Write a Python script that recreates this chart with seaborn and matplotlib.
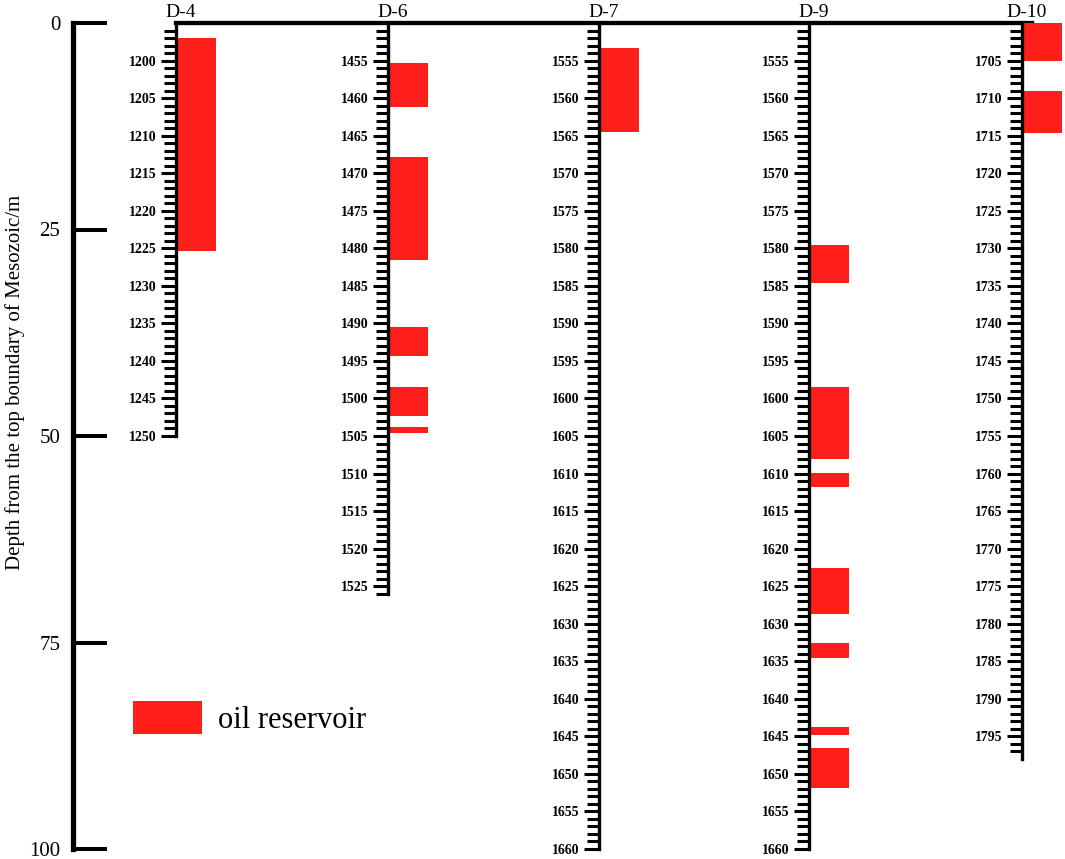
import numpy as np
import matplotlib.pyplot as plt
import seaborn as sns
from matplotlib.patches import Patch
from matplotlib.ticker import FixedLocator

# Well names and logged depth ranges (m)
wells = ["D-4", "D-6", "D-7", "D-9", "D-10"]
well_top = [1195, 1450, 1550, 1550, 1700]
well_bottom = [1250, 1526, 1660, 1660, 1798]
well_last_tick = [1250, 1526, 1660, 1660, 1797]

# Oil reservoir intervals (top, base) per well, m
d4_res = [(1197.0, 1225.4)]
d6_res = [(1455.3, 1461.2), (1467.8, 1481.6), (1490.5, 1494.4),
          (1498.5, 1502.3), (1503.8, 1504.6)]
d7_res = [(1553.3, 1564.5)]
d9_res = [(1579.5, 1584.6), (1598.5, 1608.1), (1609.9, 1611.8),
          (1622.6, 1628.7), (1632.5, 1634.5), (1643.7, 1644.8),
          (1646.6, 1651.9)]
d10_res = [(1700.0, 1705.1), (1709.1, 1714.6)]
reservoirs = [d4_res, d6_res, d7_res, d9_res, d10_res]

# Relative depth ruler
ruler_ticks = [0, 25, 50, 75, 100]

# Layout (pixels of the 1065x859 canvas)
W, H = 1065, 859
TOP_PX, BOT_PX = 23, 849
well_x = [176, 388, 599, 809, 1022]
span = 110  # metres shown over the full panel height
red = "#ff1f1a"

sns.set_style("white")
plt.rcParams['font.family'] = ['Liberation Serif', 'DejaVu Serif']
plt.rcParams.update({"text.color": "black", "axes.labelcolor": "black",
                     "axes.edgecolor": "black", "ytick.color": "black",
                     "xtick.color": "black"})

fig = plt.figure(figsize=(W / 100, H / 100), dpi=100)
ax_bottom = 1 - BOT_PX / H
ax_height = (BOT_PX - TOP_PX) / H

# Top boundary line across all wells
bg = fig.add_axes([176 / W, ax_bottom, (1032 - 176) / W, ax_height])
bg.patch.set_alpha(0)
bg.set_xticks([])
bg.set_yticks([])
for s in ["left", "right", "bottom"]:
    bg.spines[s].set_visible(False)
bg.spines["top"].set_linewidth(3.1)

# Left ruler
axr = fig.add_axes([73 / W, ax_bottom, 40 / W, ax_height])
axr.patch.set_alpha(0)
axr.set_ylim(100, 0)
axr.set_xticks([])
axr.set_yticks(ruler_ticks)
for s in ["top", "right", "bottom"]:
    axr.spines[s].set_visible(False)
axr.spines["left"].set_linewidth(3.8)
axr.tick_params(axis="y", direction="in", length=24.5, width=2.9,
                labelsize=15, pad=9, left=True)
axr.set_ylabel("Depth from the top boundary of Mesozoic/m", fontsize=15)
axr.yaxis.set_label_coords(-1.2, 0.565)

# Wells
for name, x0, top, bot, last, res in zip(wells, well_x, well_top,
                                          well_bottom, well_last_tick, reservoirs):
    ax = fig.add_axes([x0 / W, ax_bottom, 60 / W, ax_height])
    ax.patch.set_alpha(0)
    ax.set_xlim(0, 1.5)
    ax.set_ylim(top + span, top)
    for r_top, r_base in res:
        ax.barh(r_top, 1.0, height=r_base - r_top, left=0, align="edge",
                color=red, linewidth=0, zorder=1)
    depths = np.arange(top + 1, last + 1)
    ax.yaxis.set_major_locator(FixedLocator(depths[depths % 5 == 0]))
    ax.yaxis.set_minor_locator(FixedLocator(depths[depths % 5 != 0]))
    ax.tick_params(axis="y", which="major", direction="out", length=11,
                   width=2.2, labelsize=10, pad=3, left=True)
    ax.tick_params(axis="y", which="minor", direction="out", length=8.5,
                   width=2.2, left=True)
    for lab in ax.get_yticklabels():
        lab.set_fontweight("bold")
    ax.xaxis.set_visible(False)
    for s in ["top", "right", "bottom"]:
        ax.spines[s].set_visible(False)
    ax.spines["left"].set_linewidth(2.4)
    ax.spines["left"].set_bounds(top, bot)
    ax.spines["left"].set_zorder(3)
    ax.annotate(name, xy=(0, 1), xycoords="axes fraction", xytext=(3, 4.5),
                textcoords="offset points", ha="center", va="baseline",
                fontsize=14, annotation_clip=False)

fig.legend(handles=[Patch(facecolor=red, edgecolor="none", label="oil reservoir")],
           loc="center left", bbox_to_anchor=(133 / W, 1 - 718 / H),
           frameon=False, fontsize=22, handlelength=2.25, handleheight=1.28,
           handletextpad=0.52, borderpad=0, borderaxespad=0)

fig.savefig("out.png", dpi=100, facecolor="white")
